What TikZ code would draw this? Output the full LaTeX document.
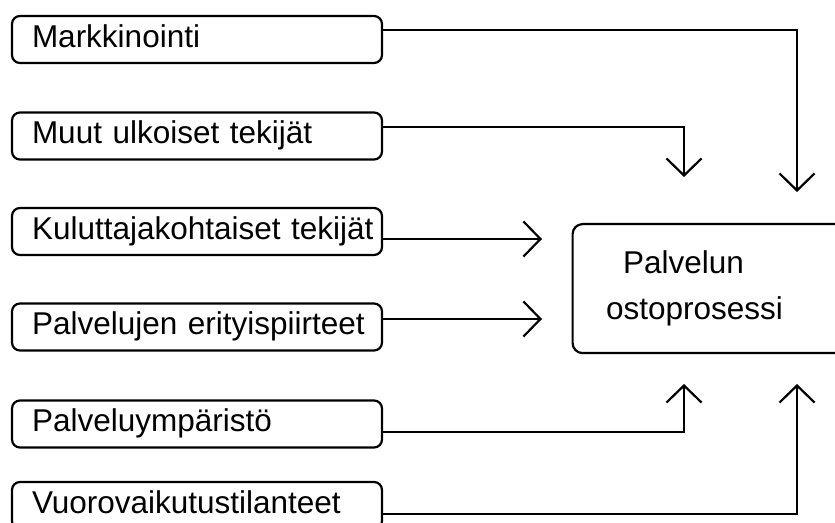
\documentclass[tikz,border=0pt]{standalone}
\usepackage{fontspec}
\setmainfont{Liberation Sans}
\usetikzlibrary{arrows.meta}
\begin{document}
\begin{tikzpicture}[x=1pt,y=1pt,
  factor/.style={draw, line width=2.2pt, rounded corners=8pt,
    text width=350pt, inner xsep=10pt, align=left,
    minimum height=47pt, text height=23pt, text depth=7pt,
    font=\fontsize{31.5}{37}\selectfont,
    execute at begin node={\hspace*{10pt}\hbox\bgroup},
    execute at end node={\egroup}},
  process/.style={draw, line width=2.2pt, rounded corners=10pt,
    minimum width=279pt, minimum height=129pt,
    text width=212pt, inner xsep=33.5pt, align=left,
    font=\fontsize{31.5}{46}\selectfont},
  flow/.style={line width=2.2pt, -{Straight Barb[length=17pt,width=35pt]}}
]
\clip (0,0) rectangle (835,522);

% influencing factors
\node[factor] (mark) at (197,482.5) {Markkinointi};
\node[factor] (muut) at (197,386)   {Muut ulkoiset tekijät};
\node[factor] (kulu) at (197,290.5) {Kuluttajakohtaiset tekijät};
\node[factor] (erit) at (197,195)   {Palvelujen erityispiirteet};
\node[factor] (ymp)  at (197,98)    {Palveluympäristö};
\node[factor] (vuor) at (197,16.5)  {Vuorovaikutustilanteet};

% the purchase process
\node[process, anchor=north west] (osto) at (571.5,299)
  {\hspace*{17pt}Palvelun\\ostoprosessi};

% arrow tips around the process box
\coordinate (tipA) at (797,330);
\coordinate (tipB) at (684,345);
\coordinate (tipC) at (542,283);
\coordinate (tipD) at (542,203);
\coordinate (tipE) at (684,138);
\coordinate (tipF) at (797,138);

\draw[flow] ([yshift=9.5pt]mark.east) -| (tipA);
\draw[flow] ([yshift=9pt]muut.east) -| (tipB);
\draw[flow] ([yshift=-7.5pt]kulu.east) -- (tipC);
\draw[flow] ([yshift=8pt]erit.east) -- (tipD);
\draw[flow] ([yshift=-8pt]ymp.east) -| (tipE);
\draw[flow] ([yshift=-8.5pt]vuor.east) -| (tipF);
\end{tikzpicture}
\end{document}
